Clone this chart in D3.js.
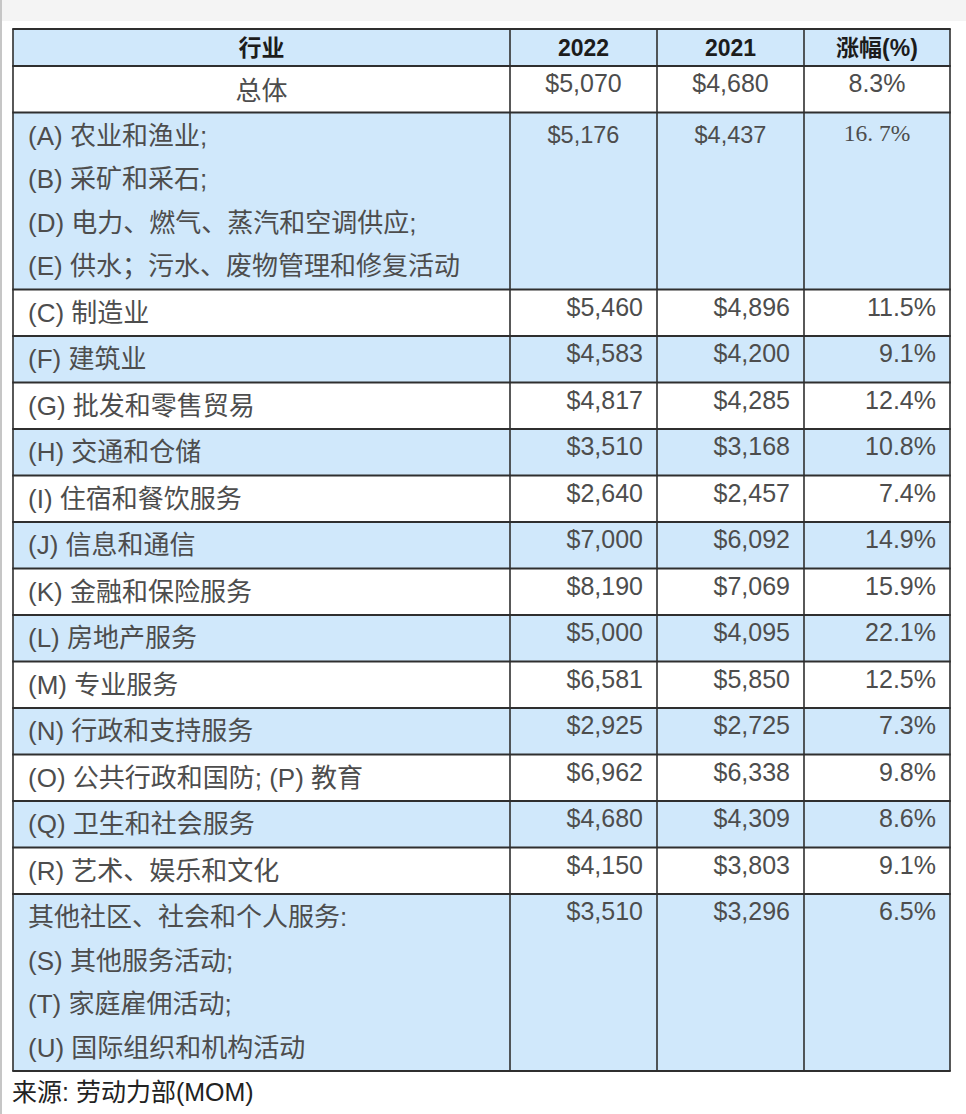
<!DOCTYPE html>
<html lang="zh">
<head>
<meta charset="utf-8">
<script src="https://d3js.org/d3.v7.min.js"></script>
<style>
  body { margin: 0; background: #fff; }
  svg { display: block; }
  .cell-text { font-family: "Liberation Sans", "Noto Sans CJK SC", sans-serif; fill: #4d4d4d; }
  .head-text { font-family: "Liberation Sans", "Noto Sans CJK SC", sans-serif; font-weight: bold; fill: #1c1c1c; }
</style>
</head>
<body>
<script>
// table data
var headers = ["行业", "2022", "2021", "涨幅(%)"];
var industries = [
  ["总体"],
  ["(A) 农业和渔业;", "(B) 采矿和采石;", "(D) 电力、燃气、蒸汽和空调供应;", "(E) 供水；污水、废物管理和修复活动"],
  ["(C) 制造业"],
  ["(F) 建筑业"],
  ["(G) 批发和零售贸易"],
  ["(H) 交通和仓储"],
  ["(I) 住宿和餐饮服务"],
  ["(J) 信息和通信"],
  ["(K) 金融和保险服务"],
  ["(L) 房地产服务"],
  ["(M) 专业服务"],
  ["(N) 行政和支持服务"],
  ["(O) 公共行政和国防; (P) 教育"],
  ["(Q) 卫生和社会服务"],
  ["(R) 艺术、娱乐和文化"],
  ["其他社区、社会和个人服务:", "(S) 其他服务活动;", "(T) 家庭雇佣活动;", "(U) 国际组织和机构活动"]
];
var wage2022 = [5070, 5176, 5460, 4583, 4817, 3510, 2640, 7000, 8190, 5000, 6581, 2925, 6962, 4680, 4150, 3510];
var wage2021 = [4680, 4437, 4896, 4200, 4285, 3168, 2457, 6092, 7069, 4095, 5850, 2725, 6338, 4309, 3803, 3296];
var growth = [8.3, 16.7, 11.5, 9.1, 12.4, 10.8, 7.4, 14.9, 15.9, 22.1, 12.5, 7.3, 9.8, 8.6, 9.1, 6.5];
var source = "来源: 劳动力部(MOM)";

var width = 966, height = 1114;
var blue = "#d0e8fb", line = "#2f2f2f";
var lineH = 43.5, pad = 3;
var headTop = 29, headH = 37, bodyTop = headTop + headH;

var svg = d3.select("body").append("svg")
    .attr("width", width)
    .attr("height", height);

// page chrome
svg.append("rect").attr("width", width).attr("height", 21).attr("fill", "#f4f4f4");
svg.append("rect").attr("width", 2).attr("height", height).attr("fill", "#c6c6c6");

// columns
var x = d3.scaleOrdinal().domain(d3.range(5)).range([13, 510, 657, 804, 950]);

// rows: cumulative line units -> pixels
var rows = industries.map(function(lines, i) {
  return {i: i, lines: lines, v22: wage2022[i], v21: wage2021[i], g: growth[i]};
});
var acc = 0;
rows.forEach(function(r) { r.u0 = acc; acc += r.lines.length; r.u1 = acc; });
var y = d3.scaleLinear().domain([0, 1]).range([bodyTop, bodyTop + lineH]);
function rowTop(r) { return y(r.u0) + r.i * pad; }
function rowBottom(r) { return y(r.u1) + (r.i + 1) * pad; }
var tableBottom = rowBottom(rows[rows.length - 1]);

// header
svg.append("rect").attr("x", x(0)).attr("y", headTop)
  .attr("width", x(4) - x(0)).attr("height", headH).attr("fill", blue);
svg.selectAll("text.head-text").data(headers).enter().append("text")
  .attr("class", "head-text")
  .attr("x", function(d, i) { return (x(i) + x(i + 1)) / 2; })
  .attr("y", headTop + headH / 2 + 8)
  .attr("text-anchor", "middle")
  .attr("font-size", 23)
  .text(function(d) { return d; });

// row backgrounds
svg.selectAll("rect.row").data(rows).enter().append("rect")
  .attr("class", "row")
  .attr("x", x(0)).attr("y", rowTop)
  .attr("width", x(4) - x(0))
  .attr("height", function(r) { return rowBottom(r) - rowTop(r); })
  .attr("fill", function(r) { return r.i % 2 ? blue : "#fff"; });

var money = d3.format("$,");
var pct = function(v) { return d3.format(".1f")(v) + "%"; };

var g = svg.selectAll("g.r").data(rows).enter().append("g").attr("class", "r");

// labels and values
g.each(function(r) {
  var sel = d3.select(this);
  sel.selectAll("text.lab").data(r.lines).enter().append("text")
    .attr("class", "cell-text lab")
    .attr("font-size", 26)
    .attr("x", r.i === 0 ? (x(0) + x(1)) / 2 : 28)
    .attr("text-anchor", r.i === 0 ? "middle" : "start")
    .attr("y", function(d, k) { return rowTop(r) + pad / 2 + (k + 0.5) * lineH + 9 + (r.i === 0 ? 2 : 0); })
    .text(function(d) { return d; });

  var vals = [money(r.v22), money(r.v21), r.i === 1 ? pct(r.g).replace(".", ". ") : pct(r.g)];
  vals.forEach(function(v, c) {
    var centered = r.i < 2;
    var t = sel.append("text")
      .attr("class", "cell-text")
      .attr("font-size", r.i === 1 ? 23.5 : 25)
      .attr("x", centered ? (x(c + 1) + x(c + 2)) / 2 : x(c + 2) - 14)
      .attr("text-anchor", centered ? "middle" : "end")
      .attr("y", rowTop(r) + (r.i === 1 ? 30 : 26))
      .text(v);
    if (r.i === 1 && c === 2) {
      t.style("font-family", "'Liberation Serif', serif").attr("font-size", 23.5).attr("y", rowTop(r) + 28);
    }
  });
});

// grid lines
var hLines = [headTop, bodyTop].concat(rows.map(rowBottom));
svg.selectAll("line.h").data(hLines).enter().append("line")
  .attr("x1", x(0) - 0.75).attr("x2", x(4) + 0.75)
  .attr("y1", function(d) { return d; }).attr("y2", function(d) { return d; })
  .attr("stroke", line).attr("stroke-width", 1.8);
svg.selectAll("line.v").data(d3.range(5)).enter().append("line")
  .attr("x1", x).attr("x2", x)
  .attr("y1", headTop).attr("y2", tableBottom)
  .attr("stroke", line).attr("stroke-width", 1.6);

// source note
svg.append("text")
  .attr("class", "cell-text")
  .style("fill", "#222")
  .attr("x", 12)
  .attr("y", tableBottom + 30)
  .attr("font-size", 25)
  .text(source);
</script>
</body>
</html>
